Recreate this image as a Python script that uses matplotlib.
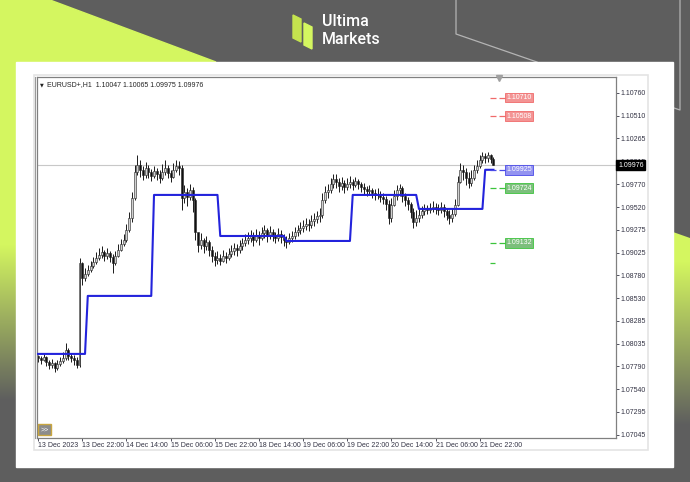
import numpy as np
import matplotlib
matplotlib.use('Agg')
from matplotlib import pyplot as plt
from matplotlib.patches import Polygon, Rectangle
from matplotlib.colors import to_rgb
from matplotlib.transforms import blended_transform_factory

plt.rcParams['font.family'] = ['Liberation Sans', 'DejaVu Sans']

# EURUSD+ H1, bars from 13 Dec 06:00 to 22 Dec 03:00 (weekend skipped)
first_open = 1.07903
close = [1.07881, 1.07860, 1.07892, 1.07838, 1.07805, 1.07827, 1.07773, 1.07816, 1.07849, 1.07881,
         1.07968, 1.07903, 1.07881, 1.07860, 1.07805, 1.08913, 1.08751, 1.08794, 1.08837, 1.08881,
         1.08924, 1.08968, 1.09000, 1.09033, 1.08989, 1.09022, 1.08978, 1.08913, 1.08989, 1.09054,
         1.09120, 1.09163, 1.09272, 1.09402, 1.09619, 1.09901, 1.09977, 1.09923, 1.09869, 1.09945,
         1.09901, 1.09858, 1.09912, 1.09880, 1.09836, 1.09901, 1.09945, 1.09890, 1.09847, 1.09923,
         1.09966, 1.09945, 1.09619, 1.09684, 1.09630, 1.09706, 1.09597, 1.09250, 1.09109, 1.09163,
         1.09098, 1.09141, 1.09054, 1.08989, 1.08946, 1.08968, 1.08935, 1.08989, 1.08968, 1.09011,
         1.09044, 1.09076, 1.09054, 1.09098, 1.09130, 1.09163, 1.09185, 1.09206, 1.09163, 1.09217,
         1.09185, 1.09239, 1.09272, 1.09206, 1.09250, 1.09217, 1.09185, 1.09228, 1.09196, 1.09163,
         1.09141, 1.09185, 1.09206, 1.09250, 1.09272, 1.09293, 1.09315, 1.09337, 1.09326, 1.09369,
         1.09391, 1.09424, 1.09434, 1.09597, 1.09684, 1.09706, 1.09771, 1.09825, 1.09793, 1.09749,
         1.09782, 1.09738, 1.09771, 1.09793, 1.09760, 1.09804, 1.09771, 1.09738, 1.09717, 1.09695,
         1.09706, 1.09673, 1.09652, 1.09662, 1.09630, 1.09608, 1.09554, 1.09402, 1.09543, 1.09641,
         1.09706, 1.09728, 1.09641, 1.09597, 1.09554, 1.09467, 1.09358, 1.09402, 1.09434, 1.09478,
         1.09500, 1.09489, 1.09510, 1.09521, 1.09500, 1.09489, 1.09521, 1.09478, 1.09434, 1.09402,
         1.09445, 1.09543, 1.09793, 1.09923, 1.09901, 1.09836, 1.09782, 1.09836, 1.09923, 1.09966,
         1.10032, 1.10075, 1.10053, 1.10086, 1.10047, 1.09976]
high = [1.07914, 1.07903, 1.07925, 1.07903, 1.07860, 1.07870, 1.07838, 1.07860, 1.07892, 1.07947,
        1.08044, 1.07990, 1.07936, 1.07914, 1.07892, 1.08968, 1.08924, 1.08859, 1.08892, 1.08935,
        1.08978, 1.09033, 1.09076, 1.09098, 1.09054, 1.09076, 1.09044, 1.09011, 1.09044, 1.09120,
        1.09174, 1.09228, 1.09337, 1.09467, 1.09684, 1.09977, 1.10086, 1.10032, 1.09966, 1.10010,
        1.09977, 1.09934, 1.09966, 1.09945, 1.09923, 1.09988, 1.10032, 1.09977, 1.09923, 1.09999,
        1.10032, 1.10021, 1.09977, 1.09760, 1.09728, 1.09771, 1.09738, 1.09619, 1.09206, 1.09239,
        1.09185, 1.09206, 1.09163, 1.09098, 1.09033, 1.09044, 1.09011, 1.09054, 1.09033, 1.09076,
        1.09109, 1.09130, 1.09120, 1.09163, 1.09185, 1.09228, 1.09250, 1.09272, 1.09250, 1.09282,
        1.09261, 1.09304, 1.09326, 1.09293, 1.09315, 1.09282, 1.09250, 1.09293, 1.09272, 1.09228,
        1.09206, 1.09239, 1.09261, 1.09304, 1.09326, 1.09358, 1.09380, 1.09402, 1.09391, 1.09434,
        1.09456, 1.09478, 1.09510, 1.09673, 1.09749, 1.09771, 1.09836, 1.09880, 1.09880, 1.09836,
        1.09847, 1.09814, 1.09836, 1.09858, 1.09825, 1.09847, 1.09825, 1.09793, 1.09782, 1.09749,
        1.09760, 1.09728, 1.09717, 1.09728, 1.09695, 1.09673, 1.09641, 1.09597, 1.09619, 1.09706,
        1.09760, 1.09771, 1.09749, 1.09673, 1.09630, 1.09576, 1.09510, 1.09489, 1.09500, 1.09532,
        1.09554, 1.09543, 1.09565, 1.09586, 1.09565, 1.09554, 1.09576, 1.09554, 1.09510, 1.09489,
        1.09510, 1.09608, 1.09858, 1.09999, 1.09977, 1.09945, 1.09901, 1.09923, 1.09977, 1.10032,
        1.10086, 1.10119, 1.10108, 1.10119, 1.10097, 1.10065]
low = [1.07838, 1.07816, 1.07849, 1.07794, 1.07762, 1.07773, 1.07729, 1.07751, 1.07794, 1.07827,
       1.07860, 1.07860, 1.07838, 1.07805, 1.07773, 1.07784, 1.08674, 1.08718, 1.08772, 1.08816,
       1.08859, 1.08902, 1.08946, 1.08968, 1.08935, 1.08957, 1.08924, 1.08805, 1.08892, 1.08978,
       1.09044, 1.09098, 1.09141, 1.09250, 1.09358, 1.09597, 1.09869, 1.09847, 1.09814, 1.09836,
       1.09836, 1.09804, 1.09836, 1.09814, 1.09782, 1.09814, 1.09869, 1.09836, 1.09793, 1.09836,
       1.09901, 1.09869, 1.09489, 1.09565, 1.09532, 1.09597, 1.09467, 1.09163, 1.09033, 1.09065,
       1.09022, 1.09054, 1.08989, 1.08924, 1.08881, 1.08902, 1.08892, 1.08924, 1.08913, 1.08946,
       1.08978, 1.09000, 1.08989, 1.09022, 1.09054, 1.09098, 1.09120, 1.09141, 1.09098, 1.09141,
       1.09109, 1.09163, 1.09185, 1.09141, 1.09174, 1.09152, 1.09130, 1.09152, 1.09130, 1.09098,
       1.09076, 1.09120, 1.09141, 1.09174, 1.09206, 1.09228, 1.09250, 1.09272, 1.09261, 1.09293,
       1.09315, 1.09348, 1.09358, 1.09402, 1.09565, 1.09619, 1.09673, 1.09728, 1.09728, 1.09684,
       1.09706, 1.09673, 1.09706, 1.09728, 1.09706, 1.09738, 1.09717, 1.09684, 1.09662, 1.09641,
       1.09652, 1.09619, 1.09597, 1.09608, 1.09576, 1.09554, 1.09489, 1.09337, 1.09358, 1.09532,
       1.09597, 1.09641, 1.09576, 1.09532, 1.09489, 1.09402, 1.09293, 1.09315, 1.09358, 1.09402,
       1.09434, 1.09445, 1.09456, 1.09467, 1.09445, 1.09434, 1.09456, 1.09413, 1.09380, 1.09337,
       1.09358, 1.09424, 1.09532, 1.09782, 1.09814, 1.09760, 1.09728, 1.09749, 1.09814, 1.09890,
       1.09945, 1.09999, 1.09999, 1.10010, 1.09999, 1.09975]

# daily level (blue), first bar of each day
day_start = [0, 18, 42, 66, 90, 114, 138, 162]
day_level = [1.07925, 1.08555, 1.09652, 1.09206, 1.09152, 1.09652, 1.09500, 1.09925]

# price labels on the right side
lbl_price = [1.10710, 1.10508, 1.09925, 1.09724, 1.09132]
lbl_text = ['1.10710', '1.10508', '1.09925', '1.09724', '1.09132']
lbl_kind = ['r', 'r', 'b', 'g', 'g']
extra_dash = 1.08913

last_price = 1.09976
header = 'EURUSD+,H1  1.10047 1.10065 1.09975 1.09976'

ytick_vals = [1.10760, 1.10510, 1.10265, 1.10015, 1.09770, 1.09520, 1.09275, 1.09025,
              1.08780, 1.08530, 1.08285, 1.08035, 1.07790, 1.07540, 1.07295, 1.07045]
xtick_pos = [0, 16, 32, 48, 64, 80, 96, 112, 128, 144, 160]
xtick_lab = ['13 Dec 2023', '13 Dec 22:00', '14 Dec 14:00', '15 Dec 06:00', '15 Dec 22:00',
             '18 Dec 14:00', '19 Dec 06:00', '19 Dec 22:00', '20 Dec 14:00', '21 Dec 06:00',
             '21 Dec 22:00']

W, H = 690, 482
gray = '#5e5e5e'
lime = '#d4f660'

fig = plt.figure(figsize=(W / 100, H / 100), dpi=100)

### background (pixel coords)
bg = fig.add_axes([0, 0, 1, 1])
bg.axis('off')
bg.add_patch(Rectangle((0, 0), W, H, color=gray, zorder=0))
bg.add_patch(Polygon([(0, 0), (50, 0), (216, 62), (0, 62)], color=lime, zorder=1))

lime_rgb = np.array(to_rgb(lime))
gray_rgb = np.array(to_rgb(gray))


def grad(x0, x1, y0, y1, g0, g1, clip=None):
    ys = np.arange(y0, y1) + 0.5
    t = np.clip((ys - g0) / (g1 - g0), 0, 1)[:, None, None]
    rgb = lime_rgb * (1 - t) + gray_rgb * t
    im = bg.imshow(rgb, extent=(x0, x1, y1, y0), aspect='auto', zorder=1)
    if clip is not None:
        im.set_clip_path(clip)


grad(0, 17, 60, H, 245, 400)
right_clip = Polygon([(673, 232), (690, 238), (690, H), (673, H)], transform=bg.transData)
grad(673, 690, 230, H, 262, 425, clip=right_clip)

bg.plot([456, 456, 537], [0, 34, 62], color='#b4b4b4', lw=0.9, zorder=1.5)
bg.plot([680, 680, 674], [0, 110, 108], color='#b4b4b4', lw=0.9, zorder=1.5)

# white panel + mt4 window
bg.add_patch(Rectangle((16, 62), 657, 405, color='white', zorder=2))
bg.add_patch(Rectangle((34, 75), 614, 375, facecolor='white', edgecolor='#e4e4e4', lw=1.2, zorder=3))
bg.plot([35, 35], [77, 438], color='#9a9a9a', lw=0.8, zorder=3.5)

# logo
bg.add_patch(Polygon([(293, 15), (301, 19), (301, 42), (293, 38)], color='#c4e34e', zorder=3))
bg.add_patch(Polygon([(304, 23), (312, 27), (312, 49), (304, 45)], color=lime, zorder=3))
bg.text(322, 22, 'Ultima', color='white', fontsize=11.5, family='Roboto', weight='medium',
        va='center', ha='left', zorder=3)
bg.text(322, 40, 'Markets', color='white', fontsize=11.5, family='Roboto', weight='medium',
        va='center', ha='left', zorder=3)

bg.set_xlim(0, W)
bg.set_ylim(H, 0)

### chart
ax = fig.add_axes([37 / W, 1 - 437.5 / H, 579 / W, 360.5 / H])
ax.set_zorder(2)
ax.set_facecolor('white')

close = np.array(close)
high = np.array(high)
low = np.array(low)
n = len(close)
idx = np.arange(n)
opn = np.r_[first_open, close[:-1]]
up = close >= opn

ax.axhline(last_price, color='#c8c8c8', lw=0.8, zorder=1)
ax.vlines(idx, low, high, color='#1a1a1a', lw=0.7, zorder=2)
ax.bar(idx, close - opn, bottom=opn, width=0.72,
       color=np.where(up, '#d0d0d0', '#111111'), edgecolor='#222222', linewidth=0.4, zorder=2.2)

lengths = np.diff(day_start + [n])
blue = np.repeat(day_level, lengths)
ax.plot(idx, blue, color='#2323dc', lw=1.5, zorder=4)

kinds = {'r': ('#f06a6a', '#f39494'), 'b': ('#4a4ae8', '#9393f0'), 'g': ('#3cc43c', '#7cbf7c')}
for p, t, k in zip(lbl_price, lbl_text, lbl_kind):
    dash, fill = kinds[k]
    ax.hlines(p, 163.6, 165.8, color=dash, lw=0.9, zorder=5)
    ax.hlines(p, 166.9, 169.4, color=dash, lw=0.9, zorder=5)
    ax.text(169.7, p, t, fontsize=5, color='white', va='center', ha='left', zorder=6,
            bbox=dict(boxstyle='square,pad=0.2', fc=fill, ec=dash, lw=0.6))
ax.hlines(extra_dash, 163.6, 165.4, color='#3cc43c', lw=0.9, zorder=5)

trans = blended_transform_factory(ax.transAxes, ax.transData)
ax.text(1.0 + 2 / 579, last_price, f'{last_price:.5f}', transform=trans, color='white', fontsize=5,
        va='center', ha='left', zorder=6, clip_on=False,
        bbox=dict(boxstyle='square,pad=0.25', fc='black', ec='black'))

ax.set_xlim(-0.4, 209.4)
ax.set_ylim(1.07017, 1.10933)

ax.plot([167], [1.10925], marker='v', ms=4, color='#a0a0a0', clip_on=False, zorder=6)

ax.yaxis.tick_right()
ax.set_yticks(ytick_vals)
ax.set_yticklabels([f'{v:.5f}' for v in ytick_vals])
ax.tick_params(axis='y', length=2, width=0.6, pad=1.5, labelsize=5, colors='#333344')
ax.set_xticks(xtick_pos)
ax.set_xticklabels(xtick_lab, ha='left')
ax.tick_params(axis='x', length=2, width=0.6, pad=1.5, labelsize=5, colors='#333344')
for s in ax.spines.values():
    s.set_color('#808080')
    s.set_linewidth(0.9)

ax.text(0.006, 0.978, '\u25bc', transform=ax.transAxes, fontsize=3.5, family='DejaVu Sans',
        va='center', ha='left', color='#222222')
ax.text(0.018, 0.978, header, transform=ax.transAxes, fontsize=5, va='center', ha='left', color='#222222')

ax.add_patch(Rectangle((0.002, 0.006), 0.023, 0.032, transform=ax.transAxes, fc='#8c8c8c',
                       ec='#c9a640', lw=1, clip_on=False, zorder=6))
ax.text(0.0135, 0.022, '>>', transform=ax.transAxes, fontsize=5, color='white',
        va='center', ha='center', zorder=7)

fig.savefig('out.png', dpi=100)
